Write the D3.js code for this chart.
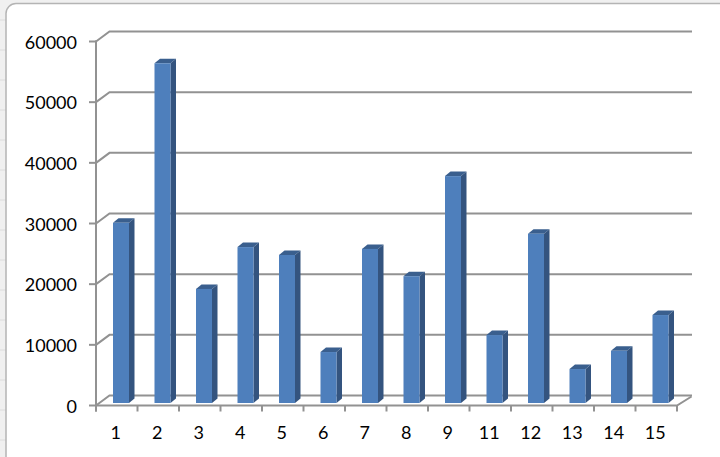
<!DOCTYPE html>
<html><head><meta charset="utf-8">
<script src="https://cdn.jsdelivr.net/npm/d3@7"></script>
<style>html,body{margin:0;padding:0;background:#fff;overflow:hidden}svg{display:block}</style>
</head><body><svg id="c" width="720" height="457"></svg>
<script>
const categories = ["1","2","3","4","5","6","7","8","9","11","12","13","14","15"];
const seriesValues = [29700,56000,18800,25700,24400,8400,25400,20900,37400,11200,27900,5600,8600,14500];
const tickValues = [0,10000,20000,30000,40000,50000,60000];

const svg = d3.select("#c");
const axisColor = "#929292";
svg.append("rect").attr("width",720).attr("height",457).attr("fill","#f0f0f0");
const bgH=[20,50,80,110,140,170,200,230,260,290,320,350,380,410,440];
svg.selectAll(".bgh").data(bgH).join("line").attr("x1",0).attr("x2",6).attr("y1",d=>d).attr("y2",d=>d).attr("stroke","#dcdcdc");
svg.append("rect").attr("x",6).attr("y",3.5).attr("width",760).attr("height",500).attr("rx",10)
  .attr("fill","#fff").attr("stroke","#b4b4b4").attr("stroke-width",1.5);

const x = d3.scaleBand().domain(categories).range([96,677]).paddingInner(0).paddingOuter(0);
const y = d3.scaleLinear().domain([0,60000]).range([405.5,41.5]);
const dx=13.5, dy=-10;

const g = svg.append("g");
const axisStyle = s=>s.attr("stroke",axisColor).attr("stroke-width",2).attr("fill","none");

tickValues.forEach(t=>{
  axisStyle(g.append("path").attr("d",d3.line()([[96,y(t)],[96+dx,y(t)+dy],[692,y(t)+dy]])));
});
axisStyle(g.append("path").attr("d",d3.line()([[96,y(0)],[677,y(0)],[677+dx+1,y(0)+dy+1]])));
axisStyle(g.append("line").attr("x1",96).attr("x2",96).attr("y1",y(60000)-1).attr("y2",y(0)+6));
g.selectAll(".yt").data(tickValues).join("line").call(axisStyle)
  .attr("x1",89).attr("x2",96).attr("y1",d=>y(d)).attr("y2",d=>y(d));
const xt=[...categories.map(c=>x(c)+x.bandwidth()),96];
g.selectAll(".xt").data(xt).join("line").call(axisStyle)
  .attr("x1",d=>d).attr("x2",d=>d).attr("y1",y(0)).attr("y2",y(0)+6);

const barW=16, depthX=5.5, depthY=4.5, base=403;
const scaleH=d=>y(0)-y(d);
const bars=g.selectAll(".bar").data(categories.map((c,i)=>({c,v:seriesValues[i]}))).join("g")
  .attr("transform",d=>`translate(${x(d.c)+x.bandwidth()/2-3.75},0)`);
bars.append("polygon").attr("fill","#3a5f8e").attr("points",d=>{
  const t=base-scaleH(d.v);return [[0,t],[depthX,t-depthY],[barW+depthX,t-depthY],[barW,t]].join(" ");});
bars.append("polygon").attr("fill","#34547f").attr("points",d=>{
  const t=base-scaleH(d.v);return [[barW,t],[barW+depthX,t-depthY],[barW+depthX,base-depthY],[barW,base]].join(" ");});
bars.append("rect").attr("x",0).attr("width",barW).attr("y",d=>base-scaleH(d.v)).attr("height",d=>scaleH(d.v))
  .attr("fill","#4e7fbc");

const font="Lato, Carlito, 'Open Sans', sans-serif";
g.selectAll(".yl").data(tickValues).join("text").text(d=>d)
  .attr("x",77).attr("y",d=>y(d)+2.5).attr("text-anchor","end").attr("dominant-baseline","middle")
  .attr("font-family",font).attr("font-size",18).attr("fill","#000");
g.selectAll(".xl").data(categories).join("text").text(d=>d)
  .attr("x",d=>x(d)+x.bandwidth()/2-1).attr("y",439).attr("text-anchor","middle")
  .attr("font-family",font).attr("font-size",18).attr("fill","#000");
</script></body></html>
